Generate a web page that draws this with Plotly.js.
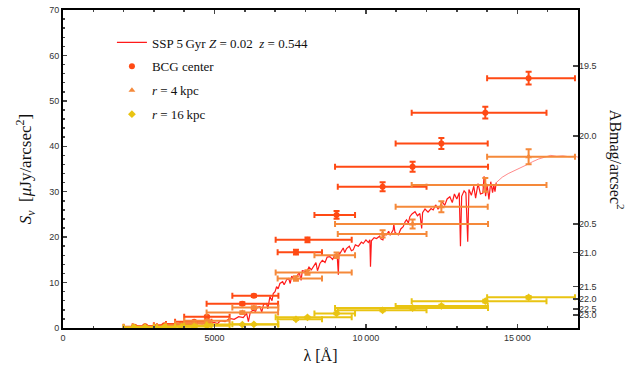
<!DOCTYPE html>
<html>
<head>
<meta charset="utf-8">
<script src="https://cdn.plot.ly/plotly-3.0.1.min.js"></script>
<style>
  html, body { margin: 0; padding: 0; background: #fff; }
  #chart { width: 632px; height: 374px; }
</style>
</head>
<body>
<div id="chart"></div>
<script>
// Filter pivot wavelengths and band edges (Angstrom)
const filterLam = [2360, 2710, 3350, 3920, 4330, 4750, 5920, 6300, 7690, 8070, 9030, 10550, 11540, 12490, 13940, 15370];
const filterLo  = [2000, 2300, 3000, 3400, 3700, 4000, 4740, 5590, 7085, 7020, 8300, 9070, 8980, 10980, 11510, 14000];
const filterHi  = [2700, 3100, 3700, 4400, 4900, 5500, 7100, 7110, 8550, 9530, 9640, 12000, 14030, 14020, 15960, 16900];

// Surface brightness (uJy/arcsec^2)
const bcgFlux = [0.3, 0.4, 0.6, 0.9, 1.4, 2.5, 5.35, 7.1, 16.7, 19.4, 24.9, 31.1, 35.5, 40.6, 47.4, 55.0];
const bcgErr  = [0.1, 0.1, 0.1, 0.15, 0.15, 0.2, 0.3, 0.3, 0.5, 0.5, 0.85, 1.0, 1.1, 1.2, 1.3, 1.4];
const r4Flux  = [0.2, 0.3, 0.4, 0.6, 1.0, 1.6, 3.4, 4.5, 10.9, 12.2, 16.0, 20.7, 22.9, 26.7, 31.5, 37.7];
const r4Err   = [0.1, 0.1, 0.1, 0.1, 0.15, 0.2, 0.3, 0.3, 0.5, 0.5, 0.6, 0.8, 1.0, 1.2, 1.5, 1.65];
const r16Flux = [0.1, 0.15, 0.2, 0.25, 0.35, 0.5, 0.75, 0.8, 1.9, 2.35, 3.2, 3.9, 4.4, 4.85, 5.9, 6.75];
const r16Err  = [0.05, 0.05, 0.05, 0.05, 0.05, 0.1, 0.1, 0.1, 0.15, 0.15, 0.2, 0.2, 0.2, 0.25, 0.3, 0.3];

// SSP model spectrum
const specLam = [2000, 2300, 2600, 2900, 3100, 3300, 3500, 3700, 3900, 4000, 4200, 4400, 4600, 4800, 5000, 5100, 5200, 5350, 5500, 5650,
  5800, 5950, 6060, 6120, 6180, 6280, 6350, 6420, 6500, 6560, 6620, 6720, 6760, 6830, 6900, 6940, 7000, 7050, 7100, 7160,
  7250, 7300, 7380, 7450, 7500, 7550, 7620, 7710, 7800, 7860, 7900, 8040, 8120, 8200, 8260, 8350, 8400, 8480, 8560, 8650,
  8720, 8810, 8900, 8980, 9050, 9090, 9110, 9140, 9250, 9300, 9360, 9450, 9520, 9580, 9650, 9750, 9850, 9910, 10000, 10080,
  10130, 10150, 10180, 10270, 10350, 10450, 10500, 10560, 10600, 10680, 10750, 10800, 10900, 10920, 10960, 11070, 11150, 11230, 11300, 11340,
  11400, 11450, 11520, 11620, 11700, 11780, 11840, 11870, 11950, 12050, 12150, 12220, 12300, 12380, 12440, 12520, 12600, 12680, 12770, 12850,
  12920, 13000, 13080, 13120, 13160, 13240, 13300, 13360, 13400, 13480, 13560, 13620, 13700, 13780, 13860, 13900, 13950, 14000, 14060, 14120,
  14180, 14220, 14260, 14300];
const specFlux = [0.1, 0.35, 0.3, 0.5, 0.4, 0.7, 0.55, 0.8, 0.7, 0.9, 0.75, 1.0, 0.9, 1.1, 1.2, 0.95, 1.6, 1.4, 2.1, 1.9,
  2.5, 2.3, 3.2, 1.4, 3.4, 4.0, 3.6, 4.6, 4.7, 3.5, 5.2, 5.4, 4.2, 6.9, 6.0, 7.6, 8.0, 9.1, 8.6, 9.8,
  10.2, 9.5, 10.6, 10.9, 9.8, 11.4, 10.8, 11.3, 12.2, 10.5, 12.6, 12.4, 13.4, 12.8, 13.5, 14.4, 12.6, 14.2, 14.9, 14.4,
  15.6, 15.7, 15.1, 16.2, 16.0, 11.7, 16.6, 16.4, 17.6, 16.6, 17.5, 18.0, 17.0, 17.2, 18.3, 18.0, 18.9, 18.6, 19.4, 18.8,
  19.4, 13.5, 19.2, 19.9, 19.7, 20.2, 19.6, 19.4, 20.6, 20.5, 21.3, 20.4, 21.6, 22.8, 21.0, 20.5, 21.8, 22.3, 23.5, 23.8,
  23.1, 24.5, 25.1, 25.6, 24.7, 25.2, 21.9, 25.4, 26.2, 25.5, 26.3, 26.0, 27.1, 26.2, 26.7, 27.8, 27.0, 28.4, 28.9, 27.6,
  29.5, 28.4, 29.8, 18.0, 29.0, 30.2, 29.7, 19.0, 30.5, 29.2, 31.2, 28.6, 31.8, 29.5, 29.7, 33.4, 29.0, 31.5, 28.3, 32.2,
  29.8, 31.5, 30.0, 32.0];
const specLamIR  = [14300, 14500, 14700, 14900, 15100, 15300, 15500, 15700, 15900, 16100, 16300, 16500, 16700, 16900, 17000];
const specFluxIR = [32.0, 33.2, 34.0, 34.6, 35.3, 35.9, 36.6, 37.2, 37.6, 38.0, 37.8, 37.9, 37.7, 37.8, 37.6];

// Right-hand AB magnitude axis
const abTickFlux   = [57.7, 42.3, 22.9, 16.6, 9.1, 6.4, 4.2, 2.9];
const abTickLabels = ['19.5', '20.0', '20.5', '21.0', '21.5', '22.0', '22.5', '23.0'];

const xTickVals = [0, 5000, 10000, 15000];
const xTickText = ['0', '5000', '10\u2009000', '15\u2009000'];

function pointTrace(name, flux, err, color, symbol) {
  return {
    x: filterLam,
    y: flux,
    name: name,
    legendgroup: name,
    type: 'scatter',
    mode: 'markers',
    marker: { color: color, size: 6, symbol: symbol },
    error_x: {
      type: 'data',
      symmetric: false,
      array: filterHi.map((h, i) => h - filterLam[i]),
      arrayminus: filterLo.map((l, i) => filterLam[i] - l),
      color: color,
      thickness: 2,
      width: 3,
    },
    error_y: {
      type: 'data',
      array: err,
      color: color,
      thickness: 2,
      width: 3,
    },
  };
}

const data = [
  {
    x: specLam,
    y: specFlux,
    name: 'SSP 5\u2009Gyr <i>Z</i> = 0.02  <i>z</i> = 0.544',
    legendgroup: 'ssp',
    type: 'scatter',
    mode: 'lines',
    line: { color: '#ff1a1a', width: 1.2 },
  },
  {
    x: specLamIR,
    y: specFluxIR,
    legendgroup: 'ssp',
    showlegend: false,
    type: 'scatter',
    mode: 'lines',
    line: { color: 'rgba(255,60,60,0.6)', width: 1 },
  },
  pointTrace('BCG center', bcgFlux, bcgErr, '#ff4a14', 'circle'),
  pointTrace('<i>r</i> = 4\u2009kpc', r4Flux, r4Err, '#f5893a', 'triangle-up'),
  pointTrace('<i>r</i> = 16\u2009kpc', r16Flux, r16Err, '#e9c412', 'diamond'),
];

const tickFont = { family: 'Liberation Sans, Arial, sans-serif', size: 9, color: '#333' };
const serif = 'Liberation Serif, Times New Roman, serif';

const layout = {
  width: 632,
  height: 374,
  margin: { l: 63, r: 54, t: 10, b: 46 },
  paper_bgcolor: '#fff',
  plot_bgcolor: '#fff',
  showlegend: true,
  legend: {
    x: 0.095,
    y: 0.945,
    xanchor: 'left',
    yanchor: 'top',
    bgcolor: 'rgba(0,0,0,0)',
    font: { family: serif, size: 13, color: '#111' },
    traceorder: 'grouped',
    tracegroupgap: 4,
    itemwidth: 30,
  },
  xaxis: {
    range: [0, 17000],
    tickmode: 'array',
    tickvals: xTickVals,
    ticktext: xTickText,
    ticks: 'inside',
    ticklen: 4,
    tickwidth: 1.5,
    tickfont: tickFont,
    showgrid: false,
    zeroline: false,
    showline: true,
    linewidth: 2,
    linecolor: '#000',
    mirror: 'ticks',
    minor: { tickmode: 'linear', tick0: 0, dtick: 1000, ticks: 'inside', ticklen: 2, tickwidth: 1.5, showgrid: false },
    title: { text: '\u03bb [\u00c5]', font: { family: serif, size: 16, color: '#111' }, standoff: 8 },
  },
  yaxis: {
    range: [0, 70],
    dtick: 10,
    ticks: 'inside',
    ticklen: 4,
    tickwidth: 1.5,
    tickfont: tickFont,
    showgrid: false,
    zeroline: false,
    showline: true,
    linewidth: 2,
    linecolor: '#000',
    mirror: true,
    minor: { dtick: 2, ticks: 'inside', ticklen: 2, tickwidth: 1.5, showgrid: false },
    title: {
      text: '<i>S<sub>\u03bd</sub></i>  [<i>\u03bc</i>Jy/arcsec<sup>2</sup>]',
      font: { family: serif, size: 17, color: '#111' },
      standoff: 13,
    },
  },
  yaxis2: {
    overlaying: 'y',
    side: 'right',
    range: [0, 70],
    tickmode: 'array',
    tickvals: abTickFlux,
    ticktext: abTickLabels,
    ticks: 'inside',
    ticklen: 5,
    tickwidth: 1.5,
    tickfont: tickFont,
    showgrid: false,
    zeroline: false,
    showline: false,
  },
  annotations: [
    {
      text: 'ABmag/arcsec<sup>2</sup>',
      xref: 'paper',
      yref: 'paper',
      x: 1.075,
      y: 0.53,
      xanchor: 'center',
      yanchor: 'middle',
      showarrow: false,
      textangle: 90,
      font: { family: serif, size: 16, color: '#111' },
    },
  ],
};

// dummy trace so that the right axis is drawn
data.push({ x: [0], y: [0], yaxis: 'y2', showlegend: false, hoverinfo: 'skip', mode: 'markers', marker: { opacity: 0 } });

Plotly.newPlot('chart', data, layout, { displayModeBar: false, staticPlot: true });
</script>
</body>
</html>
